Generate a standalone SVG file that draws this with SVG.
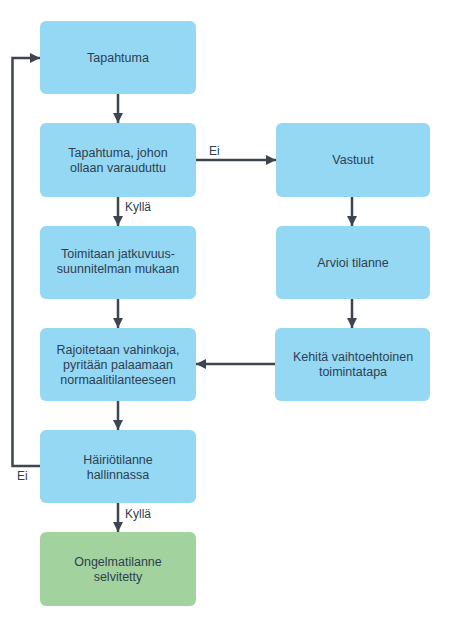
<svg xmlns="http://www.w3.org/2000/svg" width="449" height="628" viewBox="0 0 449 628">
<defs>
<marker id="ah" viewBox="0 0 10 10" refX="10" refY="5" markerWidth="10" markerHeight="10" markerUnits="userSpaceOnUse" orient="auto">
<path d="M0,0 L10,5 L0,10 z" fill="#3d4550"/>
</marker>
<style>
.box{fill:#94d8f4;}
.ok{fill:#a2d39f;}
.t{font-family:"Liberation Sans",Arial,sans-serif;font-size:12.5px;fill:#2e4050;text-anchor:middle;}
.l{font-family:"Liberation Sans",Arial,sans-serif;font-size:12px;fill:#2e4050;}
.c{fill:none;stroke:#3d4550;stroke-width:2.5;}
</style>
</defs>
<rect width="449" height="628" fill="#ffffff"/>
<g id="connectors">
<line class="c" x1="118" y1="94" x2="118" y2="123" marker-end="url(#ah)"/>
<line class="c" x1="196" y1="160" x2="276" y2="160" marker-end="url(#ah)"/>
<line class="c" x1="118" y1="197" x2="118" y2="226" marker-end="url(#ah)"/>
<line class="c" x1="118" y1="299" x2="118" y2="328" marker-end="url(#ah)"/>
<line class="c" x1="352" y1="197" x2="352" y2="226" marker-end="url(#ah)"/>
<line class="c" x1="352" y1="299" x2="352" y2="328" marker-end="url(#ah)"/>
<line class="c" x1="275" y1="364" x2="196" y2="364" marker-end="url(#ah)"/>
<line class="c" x1="118" y1="401" x2="118" y2="430" marker-end="url(#ah)"/>
<line class="c" x1="118" y1="503" x2="118" y2="532" marker-end="url(#ah)"/>
<polyline class="c" points="40,466 12.5,466 12.5,58 40,58" marker-end="url(#ah)"/>
<text class="l" x="209" y="155">Ei</text>
<text class="l" x="125" y="211">Kyllä</text>
<text class="l" x="17" y="480">Ei</text>
<text class="l" x="125" y="518">Kyllä</text>
</g>
<g id="n1"><rect class="box" x="40" y="21" width="156" height="73" rx="6"/><text class="t" x="118" y="62">Tapahtuma</text></g>
<g id="n2"><rect class="box" x="40" y="123" width="156" height="74" rx="6"/><text class="t" x="118" y="157">Tapahtuma, johon</text><text class="t" x="118" y="172">ollaan varauduttu</text></g>
<g id="n3"><rect class="box" x="40" y="226" width="156" height="73" rx="6"/><text class="t" x="118" y="258">Toimitaan jatkuvuus-</text><text class="t" x="118" y="273">suunnitelman mukaan</text></g>
<g id="n4"><rect class="box" x="40" y="328" width="156" height="73" rx="6"/><text class="t" x="118" y="354">Rajoitetaan vahinkoja,</text><text class="t" x="118" y="369">pyritään palaamaan</text><text class="t" x="118" y="384">normaalitilanteeseen</text></g>
<g id="n5"><rect class="box" x="40" y="430" width="156" height="73" rx="6"/><text class="t" x="118" y="464">Häiriötilanne</text><text class="t" x="118" y="479">hallinnassa</text></g>
<g id="n6"><rect class="ok" x="40" y="532" width="156" height="74" rx="6"/><text class="t" x="118" y="566">Ongelmatilanne</text><text class="t" x="118" y="581">selvitetty</text></g>
<g id="n7"><rect class="box" x="276" y="123" width="154" height="74" rx="6"/><text class="t" x="353" y="164">Vastuut</text></g>
<g id="n8"><rect class="box" x="276" y="226" width="154" height="73" rx="6"/><text class="t" x="353" y="267">Arvioi tilanne</text></g>
<g id="n9"><rect class="box" x="275" y="328" width="155" height="73" rx="6"/><text class="t" x="353" y="361">Kehitä vaihtoehtoinen</text><text class="t" x="353" y="376">toimintatapa</text></g>
</svg>
